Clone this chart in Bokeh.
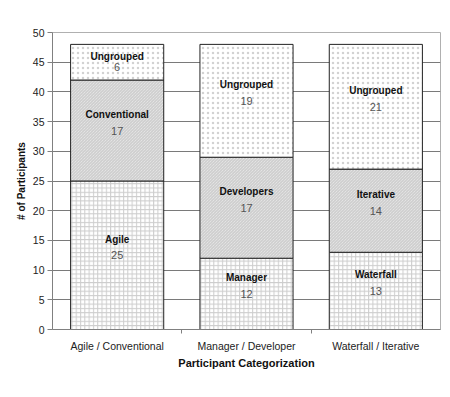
import numpy as np
from bokeh.plotting import figure
from bokeh.models import ColumnDataSource, FixedTicker, Range1d
from bokeh.core.properties import value
from bokeh.embed import file_html
from bokeh.resources import INLINE

categories = ["Agile / Conventional", "Manager / Developer", "Waterfall / Iterative"]
bottom_names = ["Agile", "Manager", "Waterfall"]
bottom_vals = [25, 12, 13]
middle_names = ["Conventional", "Developers", "Iterative"]
middle_vals = [17, 17, 14]
top_names = ["Ungrouped", "Ungrouped", "Ungrouped"]
top_vals = [6, 19, 21]
y_ticks = [0, 5, 10, 15, 20, 25, 30, 35, 40, 45, 50]

FONT = "Liberation Sans"

p = figure(frame_width=388, frame_height=297, output_backend="svg", toolbar_location=None,
           x_range=Range1d(0, len(categories)), y_range=Range1d(0, 50),
           min_border_left=52, min_border_top=32, min_border_bottom=66, min_border_right=8)
p.background_fill_color = "white"
p.border_fill_color = "white"
p.outline_line_color = "#b0b0b0"
p.outline_line_width = 1

xs = np.arange(len(categories)) + 0.5
b = np.array(bottom_vals, dtype=float)
m = np.array(middle_vals, dtype=float)
t = np.array(top_vals, dtype=float)

layers = [
    (np.zeros(3), b, bottom_names, bottom_vals, dict(fill_color="white", hatch_pattern="+", hatch_color="#cdcdcd", hatch_scale=4.3, hatch_weight=1)),
    (b, b + m, middle_names, middle_vals, dict(fill_color="#eeeeee", hatch_pattern="\\", hatch_color="#c6c6c6", hatch_scale=3, hatch_weight=1)),
    (b + m, b + m + t, top_names, top_vals, dict(fill_color="white", hatch_pattern=".", hatch_color="#d2d2d2", hatch_scale=5, hatch_weight=1)),
]

for lo, hi, names, vals, style in layers:
    src = ColumnDataSource(dict(x=xs, bottom=lo, top=hi,
                                mid=(lo + hi) / 2, name=names, val=[str(v) for v in vals]))
    p.vbar(x="x", bottom="bottom", top="top", width=0.72, source=src,
           line_color="#222222", line_width=1, **style)
    small = (hi - lo) < 8
    src.data["noff"] = np.where(small, -6, -16)
    src.data["voff"] = np.where(small, 5, 0)
    p.text(x="x", y="mid", text="name", source=src, y_offset="noff",
           text_font=value(FONT), text_font_style="bold", text_font_size="10px",
           text_color="#111111", text_align="center", text_baseline="middle")
    p.text(x="x", y="mid", text="val", source=src, y_offset="voff",
           text_font=value(FONT), text_font_size="11px",
           text_color="#555555", text_align="center", text_baseline="middle")

p.xgrid.grid_line_color = None
p.ygrid.grid_line_color = "#7a7a7a"
p.ygrid.grid_line_width = 1
p.ygrid.ticker = FixedTicker(ticks=y_ticks)

p.yaxis.ticker = FixedTicker(ticks=y_ticks)
p.yaxis.axis_line_color = "#808080"
p.yaxis.major_tick_line_color = "#808080"
p.yaxis.major_tick_out = 5
p.yaxis.major_tick_in = 0
p.yaxis.minor_tick_line_color = None
p.yaxis.major_label_text_font = FONT
p.yaxis.major_label_text_font_size = "10.5px"
p.yaxis.major_label_text_color = "#222222"
p.yaxis.major_label_standoff = 3
p.yaxis.axis_label = "# of Participants"
p.yaxis.axis_label_text_font = FONT
p.yaxis.axis_label_text_font_style = "bold"
p.yaxis.axis_label_text_font_size = "10px"
p.yaxis.axis_label_text_color = "#111111"
p.yaxis.axis_label_standoff = 3

p.xaxis.ticker = FixedTicker(ticks=list(xs), minor_ticks=list(range(1, len(categories))))
p.xaxis.major_label_overrides = {float(x): c for x, c in zip(xs, categories)}
p.xaxis.axis_line_color = "#808080"
p.xaxis.major_tick_line_color = None
p.xaxis.minor_tick_line_color = "#808080"
p.xaxis.minor_tick_out = 4
p.xaxis.minor_tick_in = 0
p.xaxis.major_label_text_font = FONT
p.xaxis.major_label_text_font_size = "10.5px"
p.xaxis.major_label_text_color = "#222222"
p.xaxis.major_label_standoff = 4
p.xaxis.axis_label = "Participant Categorization"
p.xaxis.axis_label_text_font = FONT
p.xaxis.axis_label_text_font_style = "bold"
p.xaxis.axis_label_text_font_size = "11px"
p.xaxis.axis_label_text_color = "#111111"
p.xaxis.axis_label_standoff = 2

open("out.html", "w").write(file_html(p, INLINE))
